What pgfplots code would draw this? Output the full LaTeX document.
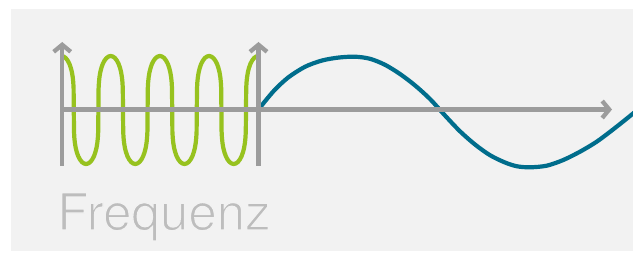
\documentclass[border=0pt]{standalone}
\usepackage{pgfplots}
\pgfplotsset{compat=1.18}
\usetikzlibrary{arrows.meta}
\usepackage{fontspec}
\setmainfont{TeX Gyre Heros}
\definecolor{bggray}{HTML}{F2F2F2}
\definecolor{axgray}{HTML}{9C9C9C}
\definecolor{wgreen}{HTML}{97C21F}
\definecolor{wblue}{HTML}{006D8C}
\definecolor{txtgray}{HTML}{BDBDBD}
\begin{document}
\begin{tikzpicture}
\begin{axis}[
  width=633pt, height=253pt, scale only axis,
  xmin=0, xmax=633, ymin=0, ymax=253, y dir=reverse,
  axis lines=none, ticks=none,
]
% background
\addplot[draw=none, fill=white] coordinates {(0,0) (633,0) (633,253) (0,253)} -- cycle;
\addplot[draw=none, fill=bggray] coordinates {(11,9) (633,9) (633,251) (11,251)} -- cycle;
% high frequency wave
\addplot[wgreen, line width=4.2pt, line join=round, line cap=butt] coordinates {
(62.0,56.1) (63.55,56.5) (65.6,57.9) (67.65,60.5) (69.43,63.9) (70.79,67.8) (71.89,72.1) (72.71,77.0) (73.25,82.2) (73.6,88.3)
(73.8,110) (74.0,131.7) (74.35,137.8) (74.89,143.0) (75.71,147.9) (76.81,152.2) (78.17,156.1) (79.95,159.5) (82.0,162.1) (84.05,163.5)
(86.1,164) (88.15,163.5) (90.2,162.1) (92.25,159.5) (94.03,156.1) (95.39,152.2) (96.49,147.9) (97.31,143.0) (97.85,137.8) (98.2,131.7)
(98.4,110) (98.6,88.3) (98.95,82.2) (99.49,77.0) (100.31,72.1) (101.41,67.8) (102.77,63.9) (104.55,60.5) (106.6,57.9) (108.65,56.5)
(110.7,56) (112.75,56.5) (114.8,57.9) (116.85,60.5) (118.63,63.9) (119.99,67.8) (121.09,72.1) (121.91,77.0) (122.45,82.2) (122.8,88.3)
(123.0,110) (123.2,131.7) (123.55,137.8) (124.09,143.0) (124.91,147.9) (126.01,152.2) (127.37,156.1) (129.15,159.5) (131.2,162.1) (133.25,163.5)
(135.3,164) (137.35,163.5) (139.4,162.1) (141.45,159.5) (143.23,156.1) (144.59,152.2) (145.69,147.9) (146.51,143.0) (147.05,137.8) (147.4,131.7)
(147.6,110) (147.8,88.3) (148.15,82.2) (148.69,77.0) (149.51,72.1) (150.61,67.8) (151.97,63.9) (153.75,60.5) (155.8,57.9) (157.85,56.5)
(159.9,56) (161.95,56.5) (164.0,57.9) (166.05,60.5) (167.83,63.9) (169.19,67.8) (170.29,72.1) (171.11,77.0) (171.65,82.2) (172.0,88.3)
(172.2,110) (172.4,131.7) (172.75,137.8) (173.29,143.0) (174.11,147.9) (175.21,152.2) (176.57,156.1) (178.35,159.5) (180.4,162.1) (182.45,163.5)
(184.5,164) (186.55,163.5) (188.6,162.1) (190.65,159.5) (192.43,156.1) (193.79,152.2) (194.89,147.9) (195.71,143.0) (196.25,137.8) (196.6,131.7)
(196.8,110) (197.0,88.3) (197.35,82.2) (197.89,77.0) (198.71,72.1) (199.81,67.8) (201.17,63.9) (202.95,60.5) (205.0,57.9) (207.05,56.5)
(209.1,56) (211.15,56.5) (213.2,57.9) (215.25,60.5) (217.03,63.9) (218.39,67.8) (219.49,72.1) (220.31,77.0) (220.85,82.2) (221.2,88.3)
(221.4,110) (221.6,131.7) (221.95,137.8) (222.49,143.0) (223.31,147.9) (224.41,152.2) (225.77,156.1) (227.55,159.5) (229.6,162.1) (231.65,163.5)
(233.7,164) (235.75,163.5) (237.8,162.1) (239.85,159.5) (241.63,156.1) (242.99,152.2) (244.09,147.9) (244.91,143.0) (245.45,137.8) (245.8,131.7)
(246.0,110) (246.2,88.3) (246.55,82.2) (247.09,77.0) (247.91,72.1) (249.01,67.8) (250.37,63.9) (252.15,60.5) (254.2,57.9) (256.25,56.5)
(257.0,56.2)
};
% low frequency wave
\addplot[wblue, line width=4.2pt, smooth] coordinates {
(258.5,109.5) (265,101.3) (275,89.6) (288.3,77.4) (305,66.8) (321.7,60.6) (338.3,57.6) (355,56.7)
(370,58.8) (385,64.8) (400,74) (415,85.4) (430,99) (445,115.5) (460,131.3) (475,144.5)
(490,155.2) (505,162.5) (517,166.3) (530,167.3) (546.7,165.7) (563.3,160) (580,151.7) (596.7,141.7)
(613.3,129.3) (630,116) (636,111)
};
% axes
\addplot[axgray, line width=4.3pt, -{Straight Barb[length=7pt,width=17pt]}] coordinates {(62.2,166) (62.2,42)};
\addplot[axgray, line width=4.3pt, -{Straight Barb[length=7pt,width=17pt]}] coordinates {(258.5,166) (258.5,42)};
\addplot[axgray, line width=4.3pt, -{Straight Barb[length=7pt,width=17pt]}] coordinates {(60.2,109.5) (612,109.5)};
\node[anchor=base west, inner sep=0pt, text=txtgray, font=\fontsize{51}{60}\selectfont] at (axis cs:57,230) {\special{pdf:literal direct 2 Tr 1.3 w 0.949 0.949 0.949 RG}Frequenz\special{pdf:literal direct 0 Tr}};
\end{axis}
\end{tikzpicture}
\end{document}
